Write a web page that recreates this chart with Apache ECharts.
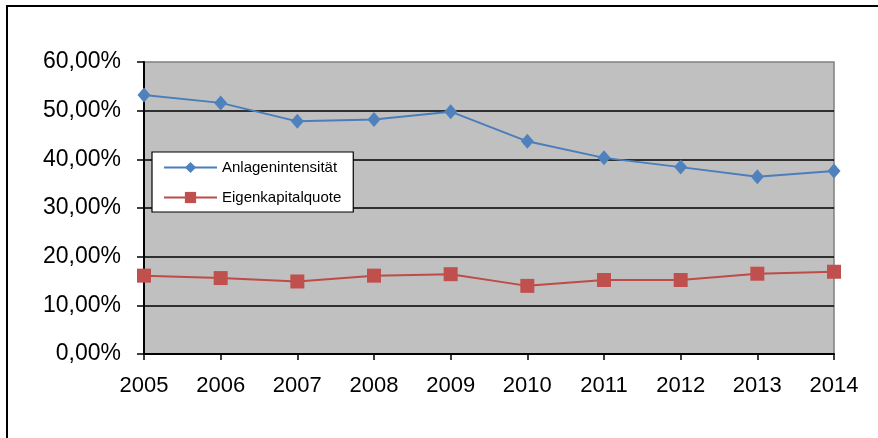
<!DOCTYPE html>
<html>
<head>
<meta charset="utf-8">
<script src="https://cdn.jsdelivr.net/npm/echarts@6/dist/echarts.min.js"></script>
<style>html,body{margin:0;padding:0;background:#fff}#c{width:878px;height:438px}</style>
</head>
<body>
<div id="c"></div>
<script>
const years = ['2005','2006','2007','2008','2009','2010','2011','2012','2013','2014'];
const anlagenintensitaet = [53.2, 51.6, 47.8, 48.2, 49.8, 43.7, 40.3, 38.4, 36.4, 37.6];
const eigenkapitalquote = [16.1, 15.6, 14.9, 16.1, 16.4, 14.0, 15.2, 15.2, 16.5, 16.9];
const yTicks = [0, 10, 20, 30, 40, 50, 60];

const chart = echarts.init(document.getElementById('c'), null, {renderer: 'canvas'});
const fmt = v => v.toFixed(2).replace('.', ',') + '%';
chart.setOption({
  animation: false,
  backgroundColor: '#ffffff',
  textStyle: {fontFamily: 'Liberation Sans, Arial, sans-serif'},
  graphic: [{
    type: 'rect', silent: true, z: 100,
    shape: {x: 7, y: 6, width: 2000, height: 2000},
    style: {fill: 'none', stroke: '#000', lineWidth: 2}
  }],
  grid: {
    left: 144, right: 44, top: 62, bottom: 84,
    show: true, backgroundColor: '#C0C0C0', borderColor: '#808080', borderWidth: 1.5
  },
  legend: {
    orient: 'vertical', left: 152, top: 152,
    backgroundColor: '#ffffff', borderColor: '#000', borderWidth: 1.2,
    padding: [8, 12, 7, 11],
    itemWidth: 53, itemHeight: 14, itemGap: 15,
    textStyle: {fontSize: 15, color: '#000', fontFamily: 'Liberation Sans, Arial, sans-serif'},
    data: ['Anlagenintensität', 'Eigenkapitalquote']
  },
  xAxis: {
    type: 'category', data: years, boundaryGap: false,
    axisLine: {lineStyle: {color: '#000', width: 2}},
    axisTick: {show: true, length: 6, lineStyle: {color: '#000', width: 1.5}},
    axisLabel: {fontSize: 22, color: '#000', margin: 21},
    splitLine: {show: false}
  },
  yAxis: {
    type: 'value', min: yTicks[0], max: yTicks[yTicks.length - 1], interval: 10,
    axisLine: {show: true, lineStyle: {color: '#000', width: 2}},
    axisTick: {show: true, length: 7, lineStyle: {color: '#000', width: 1.5}},
    axisLabel: {fontSize: 23, color: '#000', margin: 23, formatter: fmt},
    splitLine: {show: true, showMaxLine: false, lineStyle: {color: '#000', width: 1.5}}
  },
  series: [{
    name: 'Anlagenintensität', type: 'line', data: anlagenintensitaet,
    symbol: 'diamond', symbolSize: [13, 15],
    itemStyle: {color: '#4F81BD'}, lineStyle: {color: '#4A7EBB', width: 2}
  }, {
    name: 'Eigenkapitalquote', type: 'line', data: eigenkapitalquote,
    symbol: 'rect', symbolSize: 14,
    itemStyle: {color: '#C0504D'}, lineStyle: {color: '#BE4B48', width: 2}
  }]
});
</script>
</body>
</html>
